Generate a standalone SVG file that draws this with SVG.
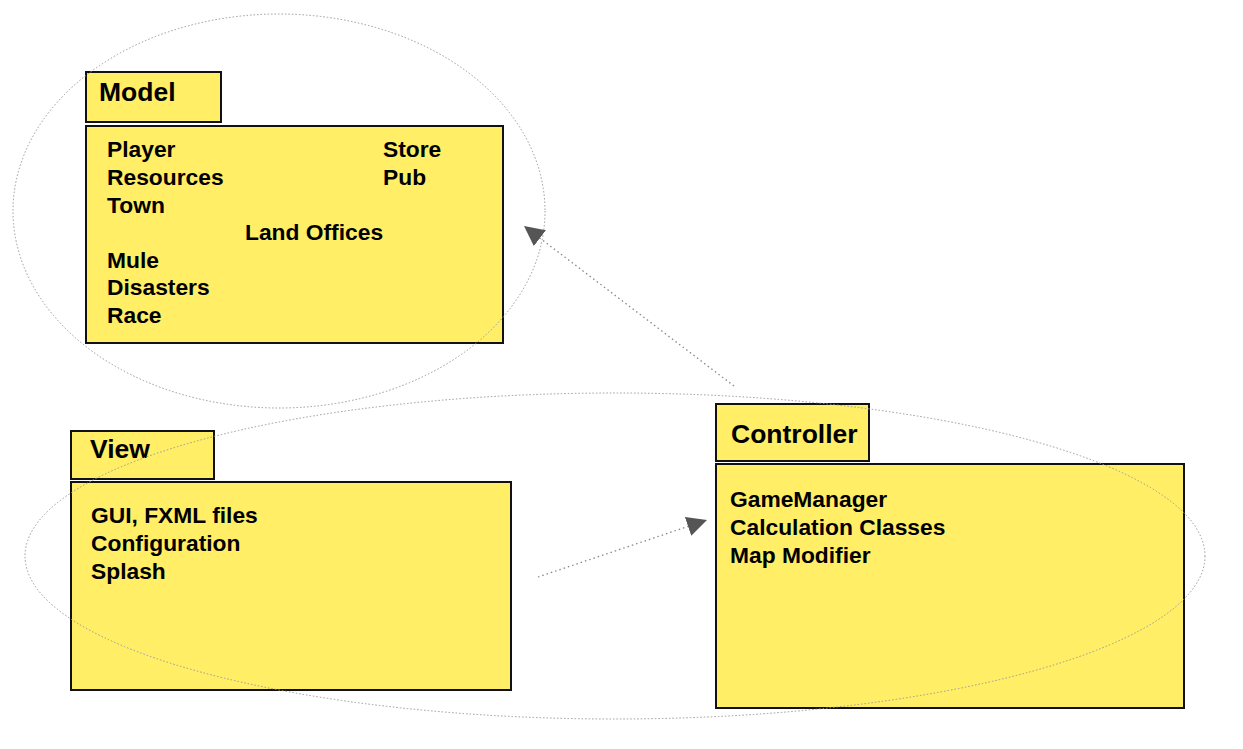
<svg xmlns="http://www.w3.org/2000/svg" width="1243" height="749" viewBox="0 0 1243 749">
<style>
.box{fill:#FFEE66;stroke:#111;stroke-width:2}
.t{font-family:"Liberation Sans",Arial,sans-serif;font-weight:bold;fill:#000}
.title{font-size:26.5px}
.item{font-size:22.8px}
.ell{fill:none;stroke:#999;stroke-width:1;stroke-dasharray:1.5 2}
.con{fill:none;stroke:#888;stroke-width:1.3;stroke-dasharray:1.5 3}
</style>
<defs>
<marker id="ah" viewBox="0 0 10 10" refX="10" refY="5" markerWidth="20" markerHeight="20" markerUnits="userSpaceOnUse" orient="auto">
<path d="M0,0 L10,5 L0,10 Z" fill="#555"/>
</marker>
</defs>
<g id="model">
<rect class="box" x="86" y="72" width="135" height="50"/>
<rect class="box" x="86" y="126" width="417" height="217"/>
<text class="t title" x="99" y="101">Model</text>
<text class="t item" x="107" y="157">Player</text>
<text class="t item" x="107" y="185">Resources</text>
<text class="t item" x="107" y="213">Town</text>
<text class="t item" x="245" y="240">Land Offices</text>
<text class="t item" x="107" y="268">Mule</text>
<text class="t item" x="107" y="295">Disasters</text>
<text class="t item" x="107" y="323">Race</text>
<text class="t item" x="383" y="157">Store</text>
<text class="t item" x="383" y="185">Pub</text>
</g>
<g id="view">
<rect class="box" x="71" y="431" width="143" height="48"/>
<rect class="box" x="71" y="482" width="440" height="208"/>
<text class="t title" x="90" y="458">View</text>
<text class="t item" x="91" y="523">GUI, FXML files</text>
<text class="t item" x="91" y="551">Configuration</text>
<text class="t item" x="91" y="579">Splash</text>
</g>
<g id="controller">
<rect class="box" x="716" y="404" width="153" height="57"/>
<rect class="box" x="716" y="464" width="468" height="244"/>
<text class="t title" x="731" y="443">Controller</text>
<text class="t item" x="730" y="507">GameManager</text>
<text class="t item" x="730" y="535">Calculation Classes</text>
<text class="t item" x="730" y="563">Map Modifier</text>
</g>
<g id="groups">
<ellipse class="ell" cx="279" cy="211" rx="266" ry="197"/>
<ellipse class="ell" cx="615" cy="556" rx="590" ry="163"/>
</g>
<g id="connectors">
<line class="con" x1="734" y1="386" x2="524" y2="226" marker-end="url(#ah)"/>
<line class="con" x1="538" y1="577" x2="707" y2="520" marker-end="url(#ah)"/>
</g>
</svg>
